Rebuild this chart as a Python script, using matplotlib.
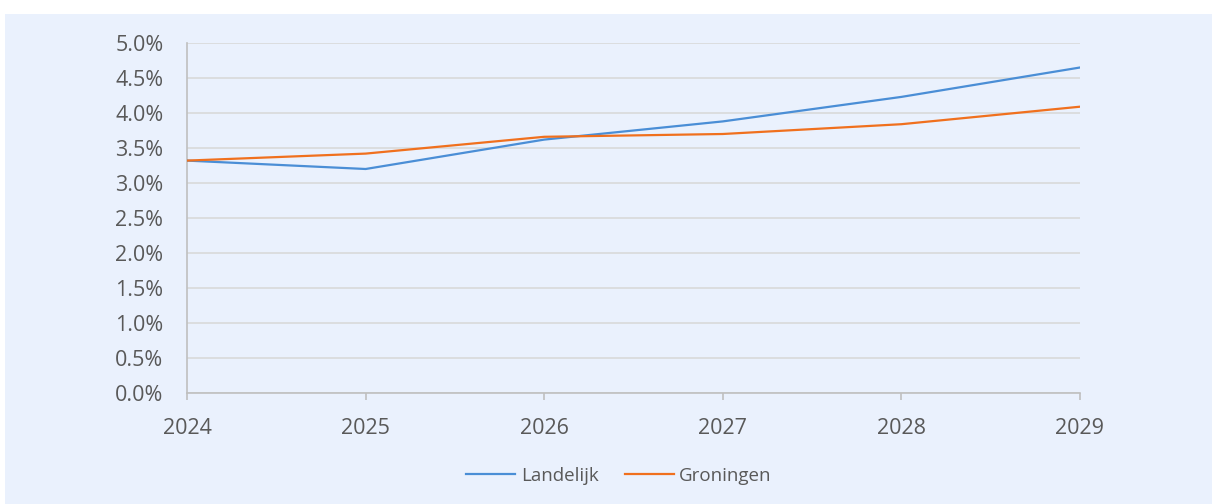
import matplotlib
matplotlib.use("Agg")
import matplotlib.pyplot as plt
from matplotlib.patches import Rectangle
from matplotlib.ticker import FuncFormatter, MultipleLocator

# data
years = [2024, 2025, 2026, 2027, 2028, 2029]
landelijk = [3.32, 3.20, 3.62, 3.88, 4.23, 4.65]
groningen = [3.32, 3.42, 3.66, 3.70, 3.84, 4.09]

blue = "#4a8ed6"
orange = "#f0701e"
bg = "#eaf1fd"
grid = "#d9d9d9"
txt = "#595959"

plt.rcParams["font.family"] = ["Open Sans", "DejaVu Sans"]

fig = plt.figure(figsize=(12.12, 5.04), dpi=100)
fig.patch.set_facecolor("white")

# light blue panel behind the chart
fig.patches.append(Rectangle((5 / 1212, 0), 1, (504 - 14) / 504,
                             transform=fig.transFigure, facecolor=bg,
                             edgecolor="none", zorder=-10))

ax = fig.add_axes([187 / 1212, (504 - 393) / 504, (1080 - 187) / 1212, 350 / 504])
ax.set_facecolor("none")

ax.plot(years, landelijk, color=blue, lw=1.6, label="Landelijk", zorder=3)
ax.plot(years, groningen, color=orange, lw=1.6, label="Groningen", zorder=3)

ax.set_xlim(2024, 2029)
ax.set_ylim(0, 5)
ax.yaxis.set_major_locator(MultipleLocator(0.5))
ax.yaxis.set_major_formatter(FuncFormatter(lambda v, p: "{:.1f}%".format(v)))
ax.set_xticks(years)

ax.grid(axis="y", color=grid, lw=1.2, zorder=1)
ax.set_axisbelow(True)

for s in ["top", "right"]:
    ax.spines[s].set_visible(False)
ax.spines["left"].set_color("#bfbfbf")
ax.spines["bottom"].set_color("#bfbfbf")
ax.spines["left"].set_linewidth(1.2)
ax.spines["bottom"].set_linewidth(1.2)

ax.tick_params(axis="y", length=0, pad=17, labelsize=15.5, labelcolor=txt)
ax.tick_params(axis="x", length=5, width=1.2, color="#bfbfbf", pad=13,
               labelsize=15.5, labelcolor=txt)

leg = fig.legend(loc="center", bbox_to_anchor=(619 / 1212, (504 - 476) / 504), ncol=2,
                 frameon=False, fontsize=13.5, handlelength=2.6, handletextpad=0.3,
                 columnspacing=1.4)
for t in leg.get_texts():
    t.set_color(txt)

fig.savefig("out.png", dpi=100)
